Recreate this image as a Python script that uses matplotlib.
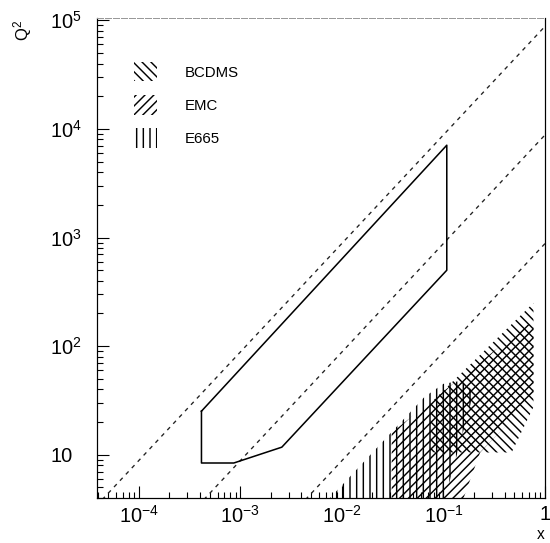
import matplotlib
matplotlib.use("Agg")
import matplotlib.pyplot as plt
from matplotlib.patches import Patch
from matplotlib.ticker import LogLocator, NullFormatter

# kinematic limits Q2 = s*x*y for y = 1, 0.1, 0.01 (end points at x=1e-5 and x=1)
KIN_X = [1e-5, 1.0]
KIN_Y1 = [0.88, 88000]
KIN_Y01 = [0.088, 8800]
KIN_Y001 = [0.0088, 880]

# HERA acceptance region
HERA_X = [4.16e-4, 4.16e-4, 8.66e-4, 2.57e-3, 0.108, 0.108, 4.16e-4]
HERA_Q2 = [25.2, 8.4, 8.4, 11.75, 500, 7080, 25.2]

# fixed target experiments
BCDMS_X = [0.075, 0.075, 0.77, 0.77, 0.47, 0.075]
BCDMS_Q2 = [10.5, 30, 250, 27.5, 10.5, 10.5]

EMC_X = [0.031, 0.031, 0.68, 0.77, 0.77, 0.23, 0.15, 0.031]
EMC_Q2 = [3.5, 16, 160, 150, 34, 10.5, 3.5, 3.5]

E665_X = [0.0067, 0.065, 0.1, 0.15, 0.2, 0.1, 0.0067]
E665_Q2 = [3.5, 34, 45, 48, 38, 3.5, 3.5]

X_TICKS = [1e-4, 1e-3, 1e-2, 1e-1, 1]
X_LABELS = ["$10^{-4}$", "$10^{-3}$", "$10^{-2}$", "$10^{-1}$", "1"]
Y_TICKS = [10, 1e2, 1e3, 1e4, 1e5]
Y_LABELS = ["10", "$10^{2}$", "$10^{3}$", "$10^{4}$", "$10^{5}$"]

plt.rcParams["font.family"] = ["Liberation Sans", "DejaVu Sans"]
plt.rcParams["mathtext.fontset"] = "custom"
plt.rcParams["mathtext.rm"] = "Liberation Sans"
plt.rcParams["mathtext.default"] = "regular"
plt.rcParams["hatch.linewidth"] = 1.3

fig = plt.figure(figsize=(550 / 80, 543 / 80), dpi=80)
ax = fig.add_axes([97 / 550, 1 - 498 / 543, 448 / 550, 480 / 543])

dash = (0, (3, 3.5))
for q2 in (KIN_Y1, KIN_Y01, KIN_Y001):
    ax.plot(KIN_X, q2, color="#222222", lw=1.2, linestyle=dash)

ax.plot(HERA_X, HERA_Q2, color="black", lw=1.4)

ax.fill(BCDMS_X, BCDMS_Q2, facecolor="none", edgecolor="black", lw=0, hatch="\\\\\\")
ax.fill(EMC_X, EMC_Q2, facecolor="none", edgecolor="black", lw=0, hatch="///")
ax.fill(E665_X, E665_Q2, facecolor="none", edgecolor="black", lw=0, hatch="||")

ax.set_xscale("log")
ax.set_yscale("log")
ax.set_xlim(3.9e-5, 1.0)
ax.set_ylim(4, 1.05e5)

ax.set_xticks(X_TICKS)
ax.set_xticklabels(X_LABELS)
ax.set_yticks(Y_TICKS)
ax.set_yticklabels(Y_LABELS)
ax.xaxis.set_minor_locator(LogLocator(subs=range(2, 10)))
ax.yaxis.set_minor_locator(LogLocator(subs=range(2, 10)))
ax.xaxis.set_minor_formatter(NullFormatter())
ax.yaxis.set_minor_formatter(NullFormatter())

ax.tick_params(which="both", direction="in", top=False, right=False, width=1.0)
ax.tick_params(which="major", length=11)
ax.tick_params(which="minor", length=5.5)
ax.tick_params(axis="x", labelsize=18, pad=6)
ax.tick_params(axis="y", labelsize=18, pad=42)
plt.setp(ax.get_yticklabels(), ha="left")

for side in ("left", "bottom", "right"):
    ax.spines[side].set_linewidth(1.1)
ax.spines["top"].set_color("#999999")
ax.spines["top"].set_linestyle((0, (6, 2)))
ax.spines["top"].set_linewidth(0.9)

ax.set_ylabel("Q$^2$", fontsize=15, rotation=90)
ax.yaxis.set_label_coords(-0.14, 0.975)
ax.set_xlabel("x", fontsize=14)
ax.xaxis.set_label_coords(0.99, -0.06)

handles = [
    Patch(facecolor="none", edgecolor="black", lw=0, hatch="\\\\\\", label="BCDMS"),
    Patch(facecolor="none", edgecolor="black", lw=0, hatch="///", label="EMC"),
    Patch(facecolor="none", edgecolor="black", lw=0, hatch="||", label="E665"),
]
ax.legend(handles=handles, loc="upper left", bbox_to_anchor=(0.083, 0.908),
          frameon=False, fontsize=13.5, handlelength=1.5, handleheight=1.6,
          handletextpad=1.9, labelspacing=0.92, borderpad=0, borderaxespad=0)

fig.savefig("out.png", dpi=80)
